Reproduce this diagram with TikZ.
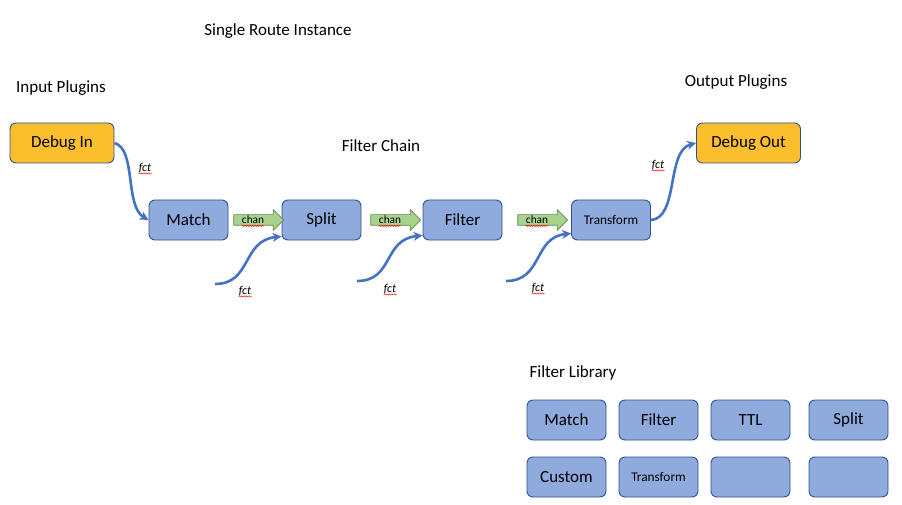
\documentclass[tikz,border=0pt]{standalone}
\usepackage{fontspec}
\setmainfont{Carlito}
\usetikzlibrary{shapes.arrows,arrows.meta,decorations.pathmorphing}
\definecolor{boxblue}{HTML}{8FAADC}
\definecolor{boxline}{HTML}{2F528F}
\definecolor{gold}{HTML}{FBBF2D}
\definecolor{fctblue}{HTML}{4472C4}
\definecolor{changreen}{HTML}{A9D18E}
\definecolor{chanline}{HTML}{5E8E45}

\begin{document}
\begin{tikzpicture}[x=1pt,y=-1pt,
  box/.style={draw=boxline,line width=0.9pt,fill=boxblue,rounded corners=6pt,
    minimum width=79pt,minimum height=40pt,font=\fontsize{17}{19}\selectfont},
  plugin/.style={box,fill=gold,minimum width=104pt},
  smalltxt/.style={font=\fontsize{13.3}{15}\selectfont},
  caption/.style={font=\fontsize{17}{19}\selectfont},
  fct/.style={draw=fctblue,line width=2.6pt,-{Stealth[length=9pt,width=9pt]}},
  fcttxt/.style={inner sep=0pt,font=\fontsize{12}{14}\selectfont\itshape},
  chanarrow/.style={single arrow,draw=chanline,fill=changreen,line width=0.7pt,
    inner sep=5pt,minimum height=50pt,single arrow head extend=5pt},
  chantxt/.style={inner sep=0pt,font=\fontsize{11.3}{13}\selectfont},
  squig/.style={red,line width=0.5pt,decorate,
    decoration={snake,amplitude=0.6pt,segment length=2.5pt}}]
\useasboundingbox (0,0) rectangle (902,505);

% captions
\node[caption] (title) at (278,31) {Single Route Instance};
\node[caption] (inlbl) at (61,88) {Input Plugins};
\node[caption] (outlbl) at (736,82) {Output Plugins};
\node[caption] (chainlbl) at (381,146) {Filter Chain};
\node[caption] (liblbl) at (573,373) {Filter Library};

% plugins
\node[plugin] (debugin) at (62,143) {Debug In};
\node[plugin] (debugout) at (748.5,143) {Debug Out};

% filter chain
\node[box] (match) at (188.5,220) {Match};
\node[box] (split) at (321.5,220) {Split};
\node[box] (filter) at (462.5,220) {Filter};
\node[box,smalltxt] (transform) at (611,220) {Transform};

% chan arrows
\node[chanarrow] (ch1) at (256,220) {};
\node[chanarrow] (ch2) at (393,220) {};
\node[chanarrow] (ch3) at (540,220) {};
\foreach \a in {ch1,ch2,ch3} {
  \node[chantxt] (\a txt) at ([xshift=-3pt]\a.center) {chan};
  \draw[squig] ([yshift=-2pt]\a txt.base west) -- ([yshift=-2pt]\a txt.base east);
}

% fct curves
\coordinate (s2) at (215,284);
\coordinate (s3) at (357,281);
\coordinate (s4) at (506,281);
\draw[fct] (debugin.east) .. controls +(22,6) and +(-24,-14) .. (match.west);
\draw[fct] (s2) .. controls +(37,0) and +(-40,4) .. ([yshift=4pt]split.south west);
\draw[fct] (s3) .. controls +(37,0) and +(-40,4) .. ([yshift=5pt]filter.south west);
\draw[fct] (s4) .. controls +(37,0) and +(-38,4) .. ([yshift=7pt]transform.south west);
\draw[fct] (transform.east) .. controls +(28,-2) and +(-30,8) .. (debugout.west);

\node[fcttxt] (f1) at (145,168) {fct};
\node[fcttxt] (f2) at (245,291) {fct};
\node[fcttxt] (f3) at (390,289) {fct};
\node[fcttxt] (f4) at (538,288) {fct};
\node[fcttxt] (f5) at (658,165) {fct};
\foreach \f in {f1,f2,f3,f4,f5}
  \draw[squig] ([yshift=-2pt]\f.base west) -- ([yshift=-2pt]\f.base east);

% filter library
\node[box] (lmatch) at (566.5,420) {Match};
\node[box] (lfilter) at (658.5,420) {Filter};
\node[box] (lttl) at (750.5,420) {TTL};
\node[box] (lsplit) at (848.5,420) {Split};
\node[box] (lcustom) at (566.5,477) {Custom};
\node[box,smalltxt] (ltransform) at (658.5,477) {Transform};
\node[box] (lblank1) at (750.5,477) {};
\node[box] (lblank2) at (848.5,477) {};
\end{tikzpicture}
\end{document}
